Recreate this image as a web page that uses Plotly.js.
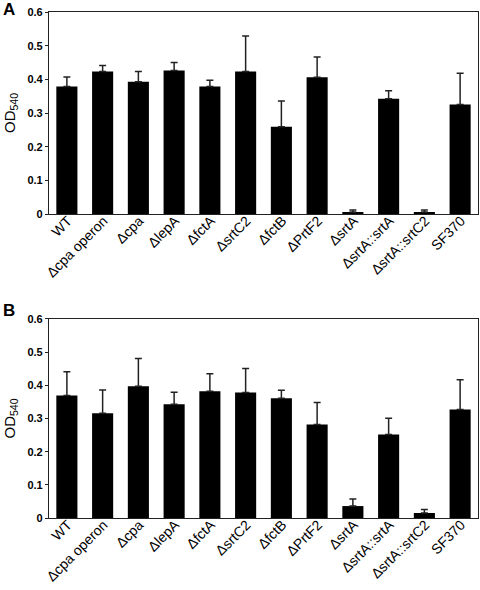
<!DOCTYPE html>
<html>
<head>
<meta charset="utf-8">
<script src="https://cdn.plot.ly/plotly-3.0.1.min.js"></script>
<style>
html,body{margin:0;padding:0;background:#fff;}
#wrap{position:relative;width:480px;height:590px;}
#chart{width:480px;height:590px;}
.modebar-container,.modebar{display:none !important;}
.panel{position:absolute;font-family:"Liberation Sans",Arial,sans-serif;font-weight:bold;font-size:17px;color:#000;line-height:1;}
</style>
</head>
<body>
<div id="wrap">
<div id="chart"></div>
<div class="panel" style="left:3px;top:1px;">A</div>
<div class="panel" style="left:3px;top:302px;">B</div>
</div>
<script>
const categories = ["WT", "Δcpa operon", "Δcpa", "ΔlepA", "ΔfctA", "ΔsrtC2", "ΔfctB", "ΔPrtF2", "ΔsrtA", "ΔsrtA::srtA", "ΔsrtA::srtC2", "SF370"];

// Panel A: means and upper error bar tops
const valuesA = [0.379, 0.423, 0.393, 0.426, 0.379, 0.423, 0.259, 0.406, 0.006, 0.342, 0.006, 0.325];
const errTopA = [0.407, 0.441, 0.423, 0.450, 0.397, 0.529, 0.336, 0.466, 0.012, 0.366, 0.012, 0.418];

// Panel B
const valuesB = [0.369, 0.316, 0.397, 0.343, 0.382, 0.378, 0.361, 0.282, 0.036, 0.252, 0.015, 0.327];
const errTopB = [0.441, 0.386, 0.481, 0.379, 0.435, 0.451, 0.385, 0.348, 0.057, 0.301, 0.026, 0.417];

const yTicks = [0, 0.1, 0.2, 0.3, 0.4, 0.5, 0.6];
const yTickText = ["0", "0.1", "0.2", "0.3", "0.4", "0.5", "0.6"];

const FONT = "Liberation Sans, Arial, sans-serif";

function barTrace(vals, tops, xa, ya) {
  return {
    type: "bar", x: categories, y: vals, xaxis: xa, yaxis: ya,
    marker: {color: "#000000", line: {width: 0}},
    error_y: {
      type: "data", symmetric: false,
      array: tops.map((t, i) => t - vals[i]),
      arrayminus: vals.map(() => 0),
      color: "#222222", thickness: 1.5, width: 3.5
    },
    hoverinfo: "skip", showlegend: false
  };
}
function xAxis(anchor) {
  return {
    type: "category", domain: [0, 1], anchor: anchor,
    showline: true, linecolor: "#222", linewidth: 1.2, mirror: true,
    tickangle: -45,
    tickfont: {family: FONT, size: 14, color: "#000"},
    showgrid: false, zeroline: false
  };
}
function yAxis(anchor, domain) {
  return {
    domain: domain, anchor: anchor, range: [0, 0.6],
    tickvals: yTicks, ticktext: yTickText,
    tickfont: {family: FONT, size: 11, color: "#000", weight: "bold"},
    showline: true, linecolor: "#222", linewidth: 1.2, mirror: true,
    ticks: "outside", ticklen: 3, tickcolor: "#222",
    showgrid: false, zeroline: false,
    title: {text: "OD<sub>540</sub>", font: {family: FONT, size: 15, color: "#000"}, standoff: 8}
  };
}

const layout = {
  width: 480, height: 590,
  margin: {l: 49, r: 2, t: 12, b: 72},
  bargap: 0.41,
  xaxis: xAxis("y"),
  yaxis: yAxis("x", [0.6008, 1]),
  xaxis2: xAxis("y2"),
  yaxis2: yAxis("x2", [0, 0.3933]),
  font: {family: FONT}
};

// Slant the category tick labels at -45 degrees, ending just below each tick,
// using the tick positions computed by Plotly's own axes.
function slantLabels(gd) {
  const fl = gd._fullLayout;
  if (!fl) return;
  const gdRect = gd.getBoundingClientRect();
  [["xaxis", "yaxis", "x"], ["xaxis2", "yaxis2", "x2"]].forEach(([xn, yn, id]) => {
    const xa = fl[xn], ya = fl[yn];
    if (!xa || !ya || typeof xa.l2p !== "function") return;
    const bottom = ya._offset + ya._length;
    gd.querySelectorAll("g." + id + "tick > text").forEach((t, i) => {
      const d = t.__data__;
      const idx = (d && typeof d.x === "number") ? d.x : i;
      const px = xa._offset + xa.l2p(idx) + 6;
      const py = bottom + 8;
      const ctm = t.parentNode.getScreenCTM();
      if (!ctm) return;
      const X = px + gdRect.left - ctm.e;
      const Y = py + gdRect.top - ctm.f;
      const x0 = parseFloat(t.getAttribute("x")) || 0;
      const y0 = parseFloat(t.getAttribute("y")) || 0;
      t.setAttribute("text-anchor", "end");
      t.setAttribute("transform",
        "translate(" + (X - x0) + "," + (Y - y0) + ") rotate(-45," + x0 + "," + y0 + ")");
    });
  });
}

const gdEl = document.getElementById("chart");
const p = Plotly.newPlot(gdEl, [
  barTrace(valuesA, errTopA, "x", "y"),
  barTrace(valuesB, errTopB, "x2", "y2")
], layout);
try { slantLabels(gdEl); } catch (e) {}
p.then(gd => {
  slantLabels(gd);
  gd.on("plotly_afterplot", () => slantLabels(gd));
  setTimeout(() => slantLabels(gd), 0);
  setTimeout(() => slantLabels(gd), 200);
});
</script>
</body>
</html>
